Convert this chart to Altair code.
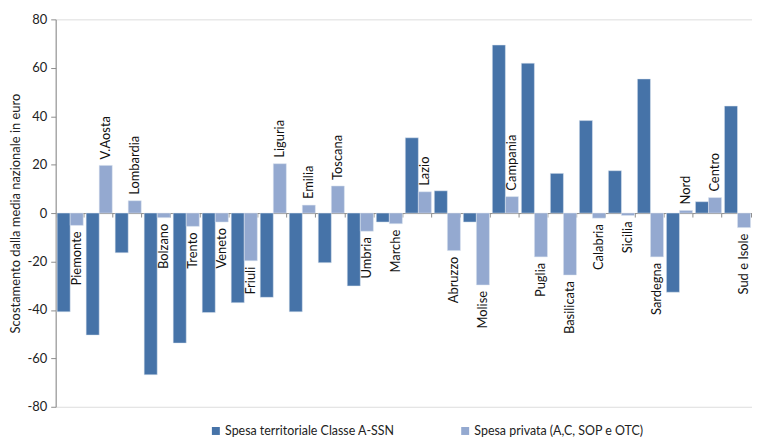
import altair as alt
import pandas as pd

regions = ["Piemonte", "V.Aosta", "Lombardia", "Bolzano", "Trento", "Veneto", "Friuli",
           "Liguria", "Emilia", "Toscana", "Umbria", "Marche", "Lazio", "Abruzzo", "Molise",
           "Campania", "Puglia", "Basilicata", "Calabria", "Sicilia", "Sardegna",
           "Nord", "Centro", "Sud e Isole"]
spesa_ssn = [-40.8, -50.4, -16.4, -66.8, -53.7, -41.1, -37.0, -34.8, -40.8, -20.5, -30.1, -3.7,
             31.1, 9.2, -3.7, 69.4, 61.9, 16.4, 38.2, 17.5, 55.4, -32.7, 4.7, 44.2]
spesa_privata = [-5.1, 19.7, 5.1, -1.9, -5.5, -3.7, -19.7, 20.4, 3.3, 11.2, -7.5, -4.4,
                 8.8, -15.5, -29.7, 6.8, -18.1, -25.6, -2.1, -1.0, -18.1, 1.1, 6.4, -6.0]
series = ["Spesa territoriale Classe A-SSN", "Spesa privata (A,C, SOP e OTC)"]
colors = ["#4673A8", "#94A9D0"]

rows = []
for i, r in enumerate(regions):
    rows.append({"region": r, "serie": series[0], "val": spesa_ssn[i], "ord": i})
    rows.append({"region": r, "serie": series[1], "val": spesa_privata[i], "ord": i})
df = pd.DataFrame(rows)
lab = pd.DataFrame({"region": regions, "val": spesa_privata})

FONT = "Lato"

xscale = alt.Scale(domain=regions, paddingInner=0.1, paddingOuter=0.05)
yscale = alt.Scale(domain=[-80, 80], nice=False)

bars = alt.Chart(df).mark_bar(stroke="#dfe6f0", strokeWidth=0.5).encode(
    x=alt.X("region:N", scale=xscale, sort=regions,
            axis=alt.Axis(title=None, labels=False, tickBand="extent", tickSize=4,
                          offset=-195, domainColor="#8c8c8c", tickColor="#8c8c8c",
                          domainWidth=1)),
    xOffset=alt.XOffset("serie:N", sort=series, scale=alt.Scale(domain=series, paddingInner=0, paddingOuter=0)),
    y=alt.Y("val:Q", scale=yscale,
            axis=alt.Axis(title="Scostamento dalla media nazionale in euro", values=list(range(-80, 81, 20)),
                          labelExpr="datum.value < 0 ? '-' + abs(datum.value) : '' + datum.value",
                          grid=False, tickSize=5, labelPadding=4, titlePadding=5,
                          domainColor="#8c8c8c", tickColor="#8c8c8c",
                          labelFont=FONT, labelFontSize=13, labelColor="#222",
                          titleFont=FONT, titleFontSize=13, titleFontWeight="normal", titleColor="#222")),
    color=alt.Color("serie:N", sort=series, scale=alt.Scale(domain=series, range=colors),
                    legend=alt.Legend(title=None, orient="none", legendX=155, legendY=408,
                                      direction="horizontal", symbolType="square", symbolSize=64,
                                      symbolStrokeWidth=0, labelFont=FONT, labelFontSize=12.5,
                                      labelColor="#222", columnPadding=64, labelOffset=3,
                                      labelLimit=0)),
)

pos = alt.Chart(lab).transform_filter("datum.val >= 0").mark_text(
    angle=270, align="left", baseline="middle", dx=6, font=FONT, fontSize=13, color="#111"
).encode(
    x=alt.X("region:N", scale=xscale, sort=regions, bandPosition=0.75),
    y=alt.Y("val:Q", scale=yscale),
    text="region:N",
)
neg = alt.Chart(lab).transform_filter("datum.val < 0").mark_text(
    angle=270, align="right", baseline="middle", dx=-6, font=FONT, fontSize=13, color="#111"
).encode(
    x=alt.X("region:N", scale=xscale, sort=regions, bandPosition=0.75),
    y=alt.Y("val:Q", scale=yscale),
    text="region:N",
)

chart = alt.layer(bars, pos, neg).properties(
    width=701, height=390,
    autosize=alt.AutoSizeParams(type="none"),
    padding={"left": 48, "top": 10, "right": 0, "bottom": 32},
).configure_view(stroke=None).configure(background="white")

chart.save("out.html", embed_options={"renderer": "svg", "actions": False})
